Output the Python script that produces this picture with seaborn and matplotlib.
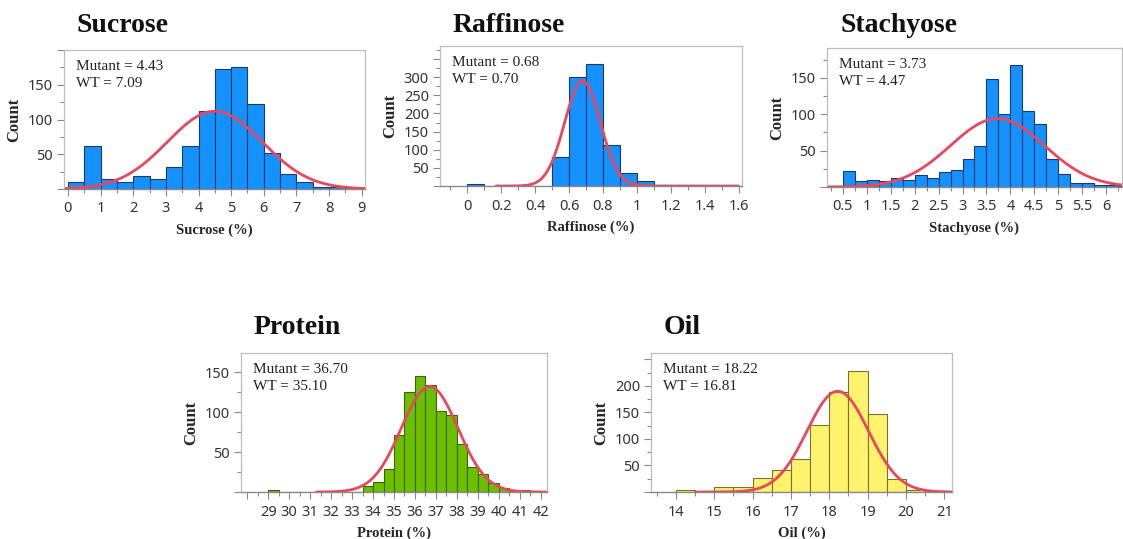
#!/usr/bin/env python3
"""
Histograms of seed composition traits with fitted normal curves.
"""
import numpy as np
import pandas as pd
import matplotlib
matplotlib.use('Agg')
import matplotlib.pyplot as plt
import seaborn as sns
from matplotlib.ticker import MultipleLocator, FuncFormatter

sns.set_theme(style='white')
plt.rcParams['font.family'] = ['Liberation Serif', 'DejaVu Serif']

# ---------------------------------------------------------------------------
# Data (first bin edge, bin width, counts per bin)
# ---------------------------------------------------------------------------
sucrose_start, sucrose_width = 0.0, 0.5
sucrose_counts = [10, 62, 15, 10, 18, 15, 32, 62, 112, 172, 176, 122, 52, 22, 10, 3, 3, 2]
sucrose_fit = (4.5, 1.45, 112)          # mean, sd, peak height of fitted curve
sucrose_note = ('4.43', '7.09')

raffinose_start, raffinose_width = 0.0, 0.1
raffinose_counts = [5, 0, 0, 0, 1, 80, 300, 337, 113, 37, 15, 3, 1, 1, 1, 1]
raffinose_fit = (0.68, 0.105, 290)
raffinose_note = ('0.68', '0.70')

stachyose_start, stachyose_width = 0.5, 0.25
stachyose_counts = [22, 8, 10, 8, 13, 10, 17, 13, 20, 23, 38, 57,
                    148, 100, 168, 105, 87, 38, 18, 5, 5, 3, 3, 2]
stachyose_fit = (3.73, 0.98, 94)
stachyose_note = ('3.73', '4.47')

protein_start, protein_width = 29.0, 0.5
protein_counts = [3, 0, 0, 0, 0, 0, 0, 0, 0,
                  8, 13, 29, 71, 125, 145, 134, 102, 96, 60, 31, 22, 11, 5, 3, 2, 1]
protein_fit = (36.7, 1.35, 132)
protein_note = ('36.70', '35.10')

oil_start, oil_width = 14.0, 0.5
oil_counts = [4, 0, 9, 9, 27, 41, 62, 127, 188, 228, 147, 25, 4, 2]
oil_fit = (18.22, 0.8, 190)
oil_note = ('18.22', '16.81')

BLUE, BLUE_EDGE = '#1592FF', '#1D3A66'
GREEN, GREEN_EDGE = '#6CBE00', '#3B6400'
YELLOW, YELLOW_EDGE = '#FFF36E', '#77722E'
RED = '#E8485E'

# name, start, width, counts, fit, note, colours, axes rect (px), xlim, ylim,
# curve range, x major/minor, labelled x range, top labelled y, title y (px)
panels = [
    ('Sucrose', sucrose_start, sucrose_width, sucrose_counts, sucrose_fit, sucrose_note,
     BLUE, BLUE_EDGE, (64, 50, 365, 189), (-0.12, 9.1), (0, 200), (-0.12, 9.1),
     1, 0.5, (0, 9), 150, 25),
    ('Raffinose', raffinose_start, raffinose_width, raffinose_counts, raffinose_fit, raffinose_note,
     BLUE, BLUE_EDGE, (440, 46, 742, 186), (-0.16, 1.62), (0, 386), (0.17, 1.6),
     0.2, 0.1, (0, 1.6), 300, 25),
    ('Stachyose', stachyose_start, stachyose_width, stachyose_counts, stachyose_fit, stachyose_note,
     BLUE, BLUE_EDGE, (827, 48, 1122, 187), (0.17, 6.33), (0, 191), (0.17, 6.33),
     0.5, 0.25, (0.5, 6), 150, 25),
    ('Protein', protein_start, protein_width, protein_counts, protein_fit, protein_note,
     GREEN, GREEN_EDGE, (241, 353, 547, 492), (27.7, 42.3), (0, 174), (31.3, 42.3),
     1, 0.5, (29, 42), 150, 327),
    ('Oil', oil_start, oil_width, oil_counts, oil_fit, oil_note,
     YELLOW, YELLOW_EDGE, (651, 353, 952, 492), (13.35, 21.2), (0, 262), (14.5, 21.2),
     1, 0.5, (14, 21), 200, 327),
]

W, H = 1123, 539
fig = plt.figure(figsize=(W / 100, H / 100), dpi=100)

for (name, start, width, counts, fit, note, fc, ec, rect, xlim, ylim, crange,
     xmaj, xmin, xlab_range, ylab_max, title_y) in panels:
    x0, y0, x1, y1 = rect
    ax = fig.add_axes([x0 / W, 1 - y1 / H, (x1 - x0) / W, (y1 - y0) / H])

    n = len(counts)
    centers = start + width * (np.arange(n) + 0.5)
    df = pd.DataFrame({'x': centers, 'count': np.asarray(counts, dtype=float)})
    sns.histplot(data=df, x='x', weights='count', binwidth=width,
                 binrange=(start, start + width * n), ax=ax,
                 color=fc, edgecolor=ec, linewidth=0.8, alpha=1)

    mu, sd, peak = fit
    xs = np.linspace(crange[0], crange[1], 300)
    curve = pd.DataFrame({'x': xs, 'y': peak * np.exp(-(xs - mu) ** 2 / (2 * sd ** 2))})
    sns.lineplot(data=curve, x='x', y='y', ax=ax, color=RED, linewidth=2)

    ax.set_xlim(*xlim)
    ax.set_ylim(*ylim)
    ax.xaxis.set_major_locator(MultipleLocator(xmaj))
    ax.xaxis.set_minor_locator(MultipleLocator(xmin))
    ax.yaxis.set_major_locator(MultipleLocator(50))
    ax.yaxis.set_minor_locator(MultipleLocator(25))
    lo, hi = xlab_range
    ax.xaxis.set_major_formatter(FuncFormatter(
        lambda v, p, lo=lo, hi=hi: f'{v:g}' if lo - 1e-6 <= v <= hi + 1e-6 else ''))
    ax.yaxis.set_major_formatter(FuncFormatter(
        lambda v, p, m=ylab_max: f'{v:g}' if 0 < v <= m + 1e-6 else ''))
    ax.tick_params(axis='both', which='both', bottom=True, left=True, direction='out',
                   color='#8A8A8A', width=0.8)
    ax.tick_params(axis='both', which='major', length=5, labelsize=10.5,
                   labelcolor='#333333', pad=3)
    ax.tick_params(axis='x', which='major', pad=4)
    ax.tick_params(axis='both', which='minor', length=3)
    for lab in ax.get_xticklabels() + ax.get_yticklabels():
        lab.set_fontfamily(['Noto Sans', 'DejaVu Sans'])

    for side in ['top', 'right', 'left']:
        ax.spines[side].set_color('#BDBDBD')
        ax.spines[side].set_linewidth(0.9)
    ax.spines['bottom'].set_color('#8A8A8A')
    ax.spines['bottom'].set_linewidth(1.0)
    ax.grid(False)

    ax.set_xlabel(f'{name} (%)', fontsize=10.5, fontweight='bold', labelpad=5)
    ax.set_ylabel('Count', fontsize=12, fontweight='bold', labelpad=4)

    ax.text(0.04, 0.93, f'Mutant = {note[0]}\nWT = {note[1]}', transform=ax.transAxes,
            ha='left', va='top', fontsize=11, linespacing=1.45, color='#222222')

    fig.text((x0 + 13) / W, 1 - title_y / H, name, ha='left', va='center',
             fontsize=20, fontweight='bold', color='#111111')

fig.savefig('out.png', dpi=100)
